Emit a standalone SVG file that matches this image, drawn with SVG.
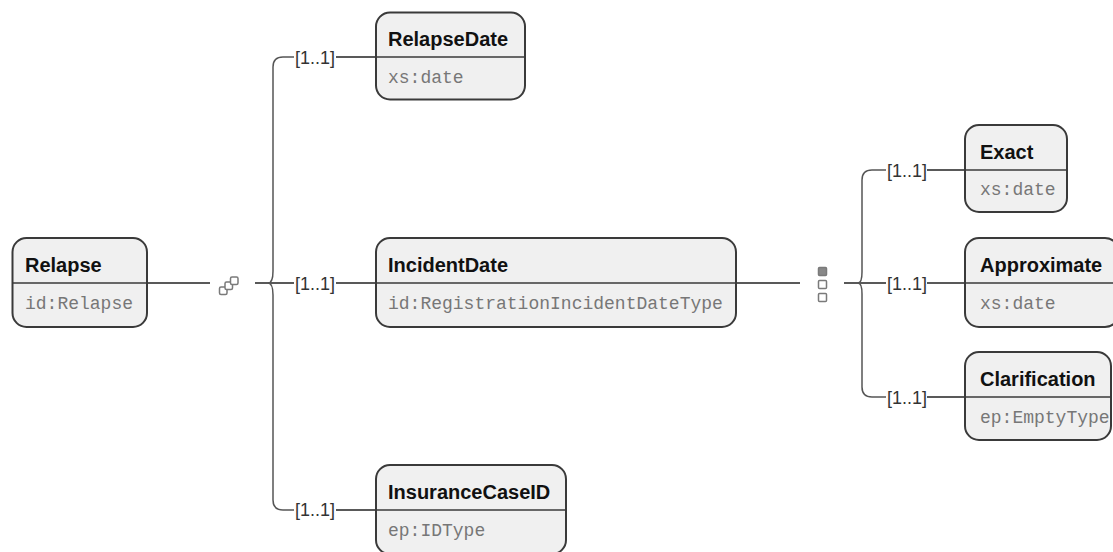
<svg xmlns="http://www.w3.org/2000/svg" width="1113" height="552" viewBox="0 0 1113 552">
<style>
.box{fill:#f0f0f0;stroke:#3a3a3a;stroke-width:2}
.sep{stroke:#3a3a3a;stroke-width:1.5}
.t{font-family:"Liberation Sans",Arial,sans-serif;font-weight:bold;font-size:20px;fill:#111}
.m{font-family:"Liberation Mono","Courier New",monospace;font-size:18px;fill:#777}
.lbl{font-family:"Liberation Sans",Arial,sans-serif;font-size:18px;fill:#333}
.c{stroke:#222;stroke-width:1.5;fill:none}
.br{stroke:#555;stroke-width:1.5;fill:none}
.ic{fill:#fff;stroke:#7a7a7a;stroke-width:1.5}
</style>
<rect width="1113" height="552" fill="#fff"/>
<g id="connectors">
<line class="c" x1="147" y1="283" x2="210" y2="283"/>
<line class="c" x1="255" y1="283" x2="294" y2="283"/>
<path class="br" d="M294 57 L283 57 Q273 57 273 67 L273 271 Q273 283 268 283 Q273 283 273 295 L273 500 Q273 510 283 510 L294 510"/>
<text class="lbl" x="295" y="63.5">[1..1]</text>
<text class="lbl" x="295" y="289.5">[1..1]</text>
<text class="lbl" x="295" y="516">[1..1]</text>
<line class="c" x1="336" y1="57" x2="376" y2="57"/>
<line class="c" x1="336" y1="283" x2="376" y2="283"/>
<line class="c" x1="336" y1="510" x2="376" y2="510"/>
<line class="c" x1="736" y1="283" x2="800" y2="283"/>
<line class="c" x1="844" y1="283" x2="886" y2="283"/>
<path class="br" d="M886 170 L872 170 Q862 170 862 180 L862 272 Q862 283 858 283 Q862 283 862 294 L862 387 Q862 397 872 397 L886 397"/>
<text class="lbl" x="887" y="176.5">[1..1]</text>
<text class="lbl" x="887" y="289.5">[1..1]</text>
<text class="lbl" x="887" y="403.5">[1..1]</text>
<line class="c" x1="927" y1="170" x2="965" y2="170"/>
<line class="c" x1="927" y1="283" x2="965" y2="283"/>
<line class="c" x1="927" y1="397" x2="965" y2="397"/>
<g id="sequence-icon">
<rect class="ic" x="219.5" y="287" width="7.5" height="7.5" rx="1.5"/>
<rect class="ic" x="225" y="282" width="7.5" height="7.5" rx="1.5"/>
<rect class="ic" x="230.5" y="277" width="7.5" height="7.5" rx="1.5"/>
</g>
<g id="choice-icon">
<rect x="818.5" y="267.5" width="8" height="8" rx="1" fill="#888" stroke="#7a7a7a" stroke-width="1.5"/>
<rect class="ic" x="818.5" y="280.5" width="8" height="8" rx="1"/>
<rect class="ic" x="818.5" y="293.5" width="8" height="8" rx="1"/>
</g>
</g>
<g id="node-relapse">
<rect class="box" x="12.5" y="238" width="134.5" height="89" rx="14"/>
<line class="sep" x1="12.5" y1="283" x2="147" y2="283"/>
<text class="t" x="25" y="272">Relapse</text>
<text class="m" x="25" y="309">id:Relapse</text>
</g>
<g id="node-relapsedate">
<rect class="box" x="376" y="12.5" width="149" height="87" rx="14"/>
<line class="sep" x1="376" y1="57" x2="525" y2="57"/>
<text class="t" x="388" y="46">RelapseDate</text>
<text class="m" x="388" y="83">xs:date</text>
</g>
<g id="node-incidentdate">
<rect class="box" x="376" y="238" width="360" height="89" rx="14"/>
<line class="sep" x1="376" y1="283" x2="736" y2="283"/>
<text class="t" x="388" y="272">IncidentDate</text>
<text class="m" x="388" y="309">id:RegistrationIncidentDateType</text>
</g>
<g id="node-insurancecaseid">
<rect class="box" x="376" y="465" width="190" height="89" rx="14"/>
<line class="sep" x1="376" y1="510" x2="566" y2="510"/>
<text class="t" x="388" y="499">InsuranceCaseID</text>
<text class="m" x="388" y="536">ep:IDType</text>
</g>
<g id="node-exact">
<rect class="box" x="965" y="125" width="102" height="87" rx="14"/>
<line class="sep" x1="965" y1="170" x2="1067" y2="170"/>
<text class="t" x="980" y="159">Exact</text>
<text class="m" x="980" y="195">xs:date</text>
</g>
<g id="node-approximate">
<rect class="box" x="965" y="238" width="154" height="89" rx="14"/>
<line class="sep" x1="965" y1="283" x2="1119" y2="283"/>
<text class="t" x="980" y="272">Approximate</text>
<text class="m" x="980" y="309">xs:date</text>
</g>
<g id="node-clarification">
<rect class="box" x="965" y="352" width="146" height="88" rx="14"/>
<line class="sep" x1="965" y1="397" x2="1111" y2="397"/>
<text class="t" x="980" y="386">Clarification</text>
<text class="m" x="980" y="423">ep:EmptyType</text>
</g>
</svg>
